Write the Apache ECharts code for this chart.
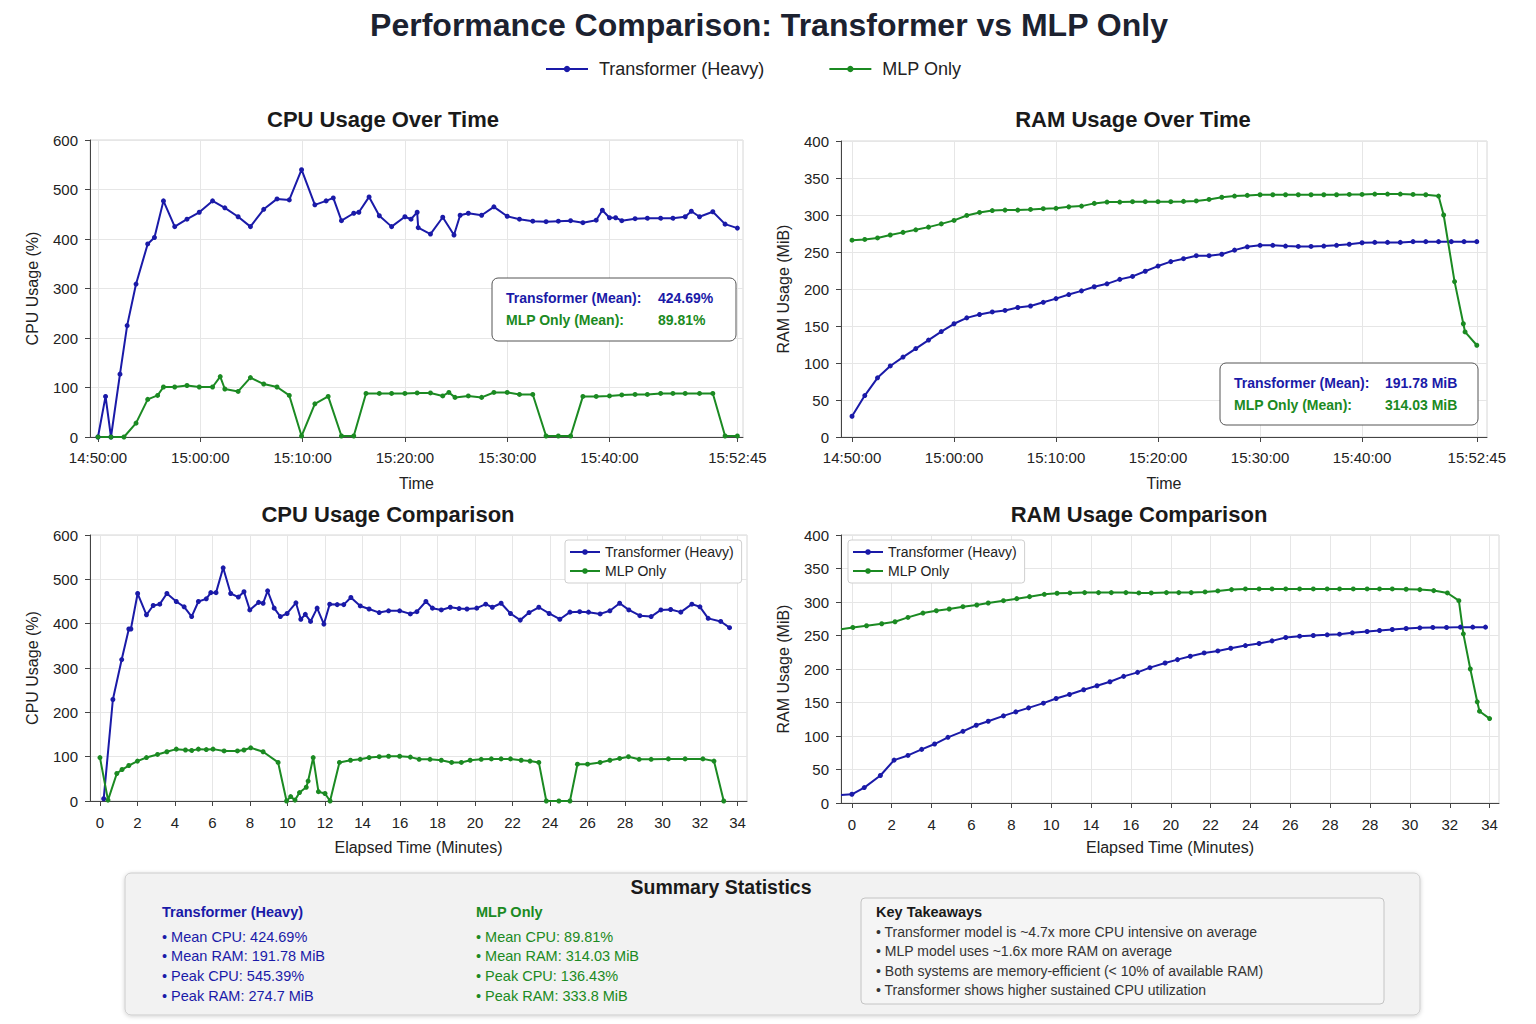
<!DOCTYPE html>
<html>
<head>
<meta charset="utf-8">
<title>Performance Comparison</title>
<script src="https://cdn.jsdelivr.net/npm/echarts@6/dist/echarts.min.js"></script>
<style>
  html, body { margin: 0; padding: 0; background: #fff; }
  #main { width: 1536px; height: 1024px; }
</style>
</head>
<body>
<div id="main"></div>
<script>
const FONT = 'Liberation Sans, Arial, Helvetica, sans-serif'
const BLUE = '#1a1aa8'
const GREEN = '#1b8a22'

// ---- CPU usage over time (minutes since 14:50:00) ----
const cpuTfTime = [0, 0.74, 1.27, 2.15, 2.85, 3.72, 4.86, 5.52, 6.4, 7.5, 8.7, 9.9, 11.2, 12.4, 13.7, 14.9, 16.2, 17.5, 18.7, 19.9,
  21.2, 22.3, 23.0, 23.8, 25.0, 25.5, 26.5, 27.5, 28.7, 30.0, 30.6, 31.2, 31.3, 32.5, 33.7, 34.8, 35.4, 36.2, 37.5, 38.7,
  40.0, 41.2, 42.5, 43.8, 45.0, 46.2, 47.4, 48.7, 49.3, 50.0, 50.6, 51.2, 52.5, 53.7, 55.0, 56.2, 57.4, 58.0, 58.8, 60.1, 61.3, 62.5]
const cpuTf = [0, 82, 0, 127, 225, 309, 390, 403, 477, 425, 440, 454, 477, 463, 445, 425, 460, 481, 479, 540,
  469, 477, 483, 437, 452, 454, 485, 447, 425, 445, 440, 454, 423, 410, 444, 408, 448, 452, 448, 465,
  446, 440, 436, 435, 436, 437, 433, 438, 458, 443, 443, 437, 441, 442, 442, 442, 445, 456, 445, 455, 430, 422]
const cpuMlpTime = [0, 1.27, 2.54, 3.72, 4.86, 5.83, 6.4, 7.5, 8.7, 9.9, 11.2, 11.95, 12.4, 13.7, 14.9, 16.2, 17.5, 18.7, 19.9,
  21.2, 22.5, 23.8, 25.0, 26.2, 27.5, 28.7, 30.0, 31.2, 32.5, 33.7, 34.3, 34.9, 36.2, 37.5, 38.7, 40.0, 41.2, 42.5,
  43.8, 45.0, 46.2, 47.4, 48.7, 50.0, 51.2, 52.5, 53.7, 55.0, 56.2, 57.4, 58.8, 60.1, 61.3, 62.5]
const cpuMlp = [0, 0, 0, 28, 76, 84, 101, 101, 104, 101, 101, 122, 97, 92, 120, 107, 101, 84, 2,
  67, 82, 2, 2, 88, 88, 88, 88, 89, 89, 83, 90, 80, 83, 80, 90, 90, 86, 86,
  2, 2, 2, 82, 82, 83, 85, 86, 86, 88, 88, 88, 88, 88, 2, 2]
const cpuTimeTicks = [0, 10, 20, 30, 40, 50, 62.5]
const cpuTimeLabels = ['14:50:00', '15:00:00', '15:10:00', '15:20:00', '15:30:00', '15:40:00', '15:52:45']

// ---- RAM usage over time ----
const ramTime = [0, 1.25, 2.5, 3.75, 5, 6.25, 7.5, 8.75, 10, 11.25, 12.5, 13.75, 15, 16.25, 17.5, 18.75, 20, 21.25, 22.5, 23.75,
  25, 26.25, 27.5, 28.75, 30, 31.25, 32.5, 33.75, 35, 36.25, 37.5, 38.75, 40, 41.25, 42.5, 43.75, 45, 46.25, 47.5, 48.75,
  50, 51.25, 52.5, 53.75, 55, 56.25, 57.5, 58.75, 60, 61.25]
const ramTf = [28, 56, 80, 96, 108, 119.5, 131, 142.5, 153, 161, 165.5, 169, 171, 175, 177, 182, 187, 192.5, 197.5, 203,
  207, 213, 217, 224, 231, 237, 241, 245, 245, 247, 252.5, 257, 259, 259, 258, 257.5, 257.5, 258, 259, 260.5,
  262.5, 263, 263, 263, 264, 264, 264, 264, 264, 264]
const ramMlpTime = [0, 1.25, 2.5, 3.75, 5, 6.25, 7.5, 8.75, 10, 11.25, 12.5, 13.75, 15, 16.25, 17.5, 18.75, 20, 21.25, 22.5, 23.75,
  25, 26.25, 27.5, 28.75, 30, 31.25, 32.5, 33.75, 35, 36.25, 37.5, 38.75, 40, 41.25, 42.5, 43.75, 45, 46.25, 47.5, 48.75,
  50, 51.25, 52.5, 53.75, 55, 56.25, 57.5, 58.0, 59.07, 59.93, 60.1, 61.25]
const ramMlp = [266, 267, 269, 273, 276.5, 280, 283.6, 288, 292.7, 299.4, 303.5, 306, 306.6, 306.6, 307.5, 308.5, 309, 311, 312, 315.7,
  317.5, 317.5, 318, 318, 318, 318, 318.4, 319, 321, 324, 325.6, 326.5, 327.4, 327.4, 327.4, 327.4, 327.4, 327.4, 327.4, 327.8,
  327.8, 328.3, 328.3, 328.3, 327.8, 327.4, 325.6, 300, 210, 153, 142, 124]
const ramTimeTicks = [0, 10, 20, 30, 40, 50, 61.25]
const ramTimeLabels = ['14:50:00', '15:00:00', '15:10:00', '15:20:00', '15:30:00', '15:40:00', '15:52:45']

// ---- CPU comparison (elapsed minutes) ----
const cmpCpuTfMin = [0.2, 0.69, 1.16, 1.54, 1.65, 2.01, 2.48, 2.84, 3.19, 3.57, 4.07, 4.49, 4.89, 5.25, 5.67, 5.91, 6.19, 6.57, 6.97, 7.38,
  7.68, 7.99, 8.46, 8.70, 8.94, 9.29, 9.62, 9.98, 10.45, 10.71, 10.95, 11.23, 11.58, 11.94, 12.25, 12.65, 13.0, 13.38, 13.88, 14.35,
  14.89, 15.39, 15.98, 16.55, 16.9, 17.38, 17.73, 18.2, 18.68, 19.15, 19.57, 20.09, 20.57, 20.92, 21.39, 21.89, 22.41, 22.88, 23.4, 23.95,
  24.52, 25.06, 25.58, 26.05, 26.67, 27.19, 27.71, 28.2, 28.79, 29.39, 29.91, 30.43, 30.97, 31.56, 31.99, 32.43, 33.1, 33.57]
const cmpCpuTf = [5, 229, 319, 388, 388, 468, 420, 441, 444, 468, 450, 438, 416, 450, 456, 470, 470, 526, 468, 460,
  472, 431, 448, 446, 474, 435, 416, 423, 447, 410, 421, 405, 435, 399, 444, 443, 443, 459, 440, 433,
  425, 429, 429, 422, 427, 450, 435, 431, 437, 434, 433, 435, 444, 437, 446, 423, 408, 425, 437, 423,
  410, 426, 427, 426, 422, 429, 446, 431, 418, 416, 431, 432, 426, 444, 438, 412, 405, 391]
const cmpCpuMlpMin = [0, 0.43, 0.9, 1.18, 1.54, 2.0, 2.48, 3.07, 3.57, 4.07, 4.56, 4.89, 5.25, 5.67, 6.03, 6.62, 7.33, 7.68, 8.04, 8.7,
  9.5, 9.95, 10.17, 10.4, 10.64, 11.0, 11.1, 11.37, 11.65, 12.0, 12.27, 12.77, 13.36, 13.88, 14.35, 14.89, 15.39, 15.98, 16.55, 17.02,
  17.6, 18.2, 18.75, 19.27, 19.74, 20.33, 20.87, 21.39, 21.89, 22.46, 22.93, 23.4, 23.8, 24.47, 25.06, 25.46, 26.0, 26.67, 27.19, 27.71,
  28.18, 28.75, 29.39, 30.31, 31.2, 32.15, 32.74, 33.26]
const cmpCpuMlp = [98, 2, 62, 71, 80, 90, 98, 105, 111, 117, 115, 114, 117, 116, 117, 113, 113, 115, 120, 111,
  87, 0, 10, 2, 19, 31, 45, 98, 21, 17, 0, 87, 92, 94, 98, 100, 101, 101, 99, 94,
  94, 92, 87, 87, 92, 94, 95, 95, 95, 92, 90, 87, 0, 0, 0, 83, 83, 87, 92, 96,
  100, 94, 94, 95, 95, 95, 90, 0]
const cmpCpuTicks = [0, 2, 4, 6, 8, 10, 12, 14, 16, 18, 20, 22, 24, 26, 28, 30, 32, 34]

// ---- RAM comparison (elapsed minutes) ----
const cmpRamTfMin = [-0.58, 0, 0.66, 1.52, 2.25, 2.99, 3.72, 4.41, 5.12, 5.92, 6.63, 7.27, 8.08, 8.74, 9.42, 10.21, 10.89, 11.6, 12.36, 13.07,
  13.76, 14.49, 15.23, 15.89, 16.7, 17.36, 18.04, 18.78, 19.51, 20.2, 20.98, 21.71, 22.4, 23.13, 23.87, 24.6, 25.34, 26.0, 26.68, 27.47,
  28.13, 28.81, 29.55, 30.28, 30.97, 31.7, 32.44, 33.1, 33.78]
const cmpRamTf = [12, 13, 23, 41, 64, 71, 80, 88, 98, 107, 116, 122, 130, 136, 142, 149, 156, 162, 169, 175,
  181, 189, 195, 202, 209, 214, 219, 224, 227, 231, 235, 238, 242, 247, 249, 250, 251, 252, 254, 256,
  257.5, 259, 260.5, 261.5, 262, 262, 262.5, 262.5, 262.5]
const cmpRamMlpMin = [-0.58, 0.05, 0.78, 1.59, 2.3, 2.99, 3.79, 4.5, 5.19, 5.92, 6.66, 7.27, 8.08, 8.79, 9.47, 10.26, 10.94, 11.63, 12.41, 13.15,
  13.83, 14.61, 15.3, 15.96, 16.77, 17.43, 18.09, 18.83, 19.51, 20.24, 20.98, 21.71, 22.4, 23.13, 23.87, 24.6, 25.34, 26.0, 26.73, 27.47,
  28.13, 28.81, 29.55, 30.28, 31.02, 31.75, 32.36, 32.6, 32.97, 33.34, 33.46, 34.0]
const cmpRamMlp = [259.5, 262, 264.5, 267.5, 270.5, 277, 283.5, 287, 289.5, 293, 295.5, 298.5, 302, 305, 308, 311.5, 313, 313.5, 314, 314,
  314, 314, 313.5, 313.5, 314, 314, 314, 315, 316.5, 318.5, 319.5, 319.5, 319.5, 319.5, 319.5, 319.5, 319.5, 319.5, 319.5, 319.5,
  319.5, 319.5, 319, 318.5, 317, 313.5, 302, 252.5, 200, 151, 137, 126]
const cmpRamLabels = ['0', '2', '4', '6', '8', '10', '14', '16', '20', '22', '24', '26', '28', '28', '30', '32', '34']

// ---- stats text ----
const cpuMeans = ['424.69%', '89.81%']
const ramMeans = ['191.78 MiB', '314.03 MiB']
const tfStats = ['• Mean CPU: 424.69%', '• Mean RAM: 191.78 MiB', '• Peak CPU: 545.39%', '• Peak RAM: 274.7 MiB']
const mlpStats = ['• Mean CPU: 89.81%', '• Mean RAM: 314.03 MiB', '• Peak CPU: 136.43%', '• Peak RAM: 333.8 MiB']
const takeaways = [
  '• Transformer model is ~4.7x more CPU intensive on average',
  '• MLP model uses ~1.6x more RAM on average',
  '• Both systems are memory-efficient (< 10% of available RAM)',
  '• Transformer shows higher sustained CPU utilization'
]

const zip = (xs, ys) => xs.map((x, i) => [x, ys[i]])
// first point of the comparison RAM lines starts at the frame edge, no marker there
const edgeStart = (xs, ys) => zip(xs, ys).map((p, i) => i === 0 ? { value: p, symbolSize: 0 } : p)

const cmpRamTicks = cmpRamLabels.map((l, i) => i * 34 / (cmpRamLabels.length - 1))

const labelFor = (ticks, labels) => v => {
  const i = ticks.findIndex(t => Math.abs(t - v) < 1e-6)
  return i >= 0 ? labels[i] : ''
}

const axisText = { color: '#222', fontSize: 15, fontFamily: FONT }
const nameText = { color: '#222', fontSize: 16, fontFamily: FONT }

function xAxis(grid, min, max, ticks, fmt, name, gap, margin) {
  return {
    type: 'value', gridIndex: grid, min: min, max: max,
    name: name, nameLocation: 'middle', nameGap: gap, nameTextStyle: nameText,
    axisLine: { show: true, onZero: false, lineStyle: { color: '#444', width: 1 } },
    axisTick: { show: true, length: 5, customValues: ticks, lineStyle: { color: '#444' } },
    axisLabel: Object.assign({ customValues: ticks, formatter: fmt, margin: margin }, axisText),
    splitLine: { show: true, lineStyle: { color: '#e6e6e6' } }
  }
}

function yAxis(grid, max, interval, name) {
  return {
    type: 'value', gridIndex: grid, min: 0, max: max, interval: interval,
    name: name, nameLocation: 'middle', nameGap: 50, nameTextStyle: nameText,
    axisLine: { show: true, onZero: false, lineStyle: { color: '#444', width: 1 } },
    axisTick: { show: true, length: 5, lineStyle: { color: '#444' } },
    axisLabel: Object.assign({ margin: 12 }, axisText),
    splitLine: { show: true, lineStyle: { color: '#e6e6e6' } }
  }
}

function line(name, color, grid, data) {
  return {
    name: name, type: 'line', xAxisIndex: grid, yAxisIndex: grid, data: data,
    symbol: 'circle', symbolSize: 5, showSymbol: true,
    lineStyle: { color: color, width: 2 }, itemStyle: { color: color },
    animation: false
  }
}

function subTitle(text, x, y) {
  return { text: text, left: x, top: y, textAlign: 'center', padding: 0,
    textStyle: { fontSize: 22, fontWeight: 'bold', color: '#1a1a1a', fontFamily: FONT } }
}

function txt(text, x, y, color, size, weight, align) {
  return { type: 'text', x: x, y: y, silent: true,
    style: { text: text, fill: color, fontSize: size, fontWeight: weight || 'normal', fontFamily: FONT,
      textAlign: align || 'left', textVerticalAlign: 'middle' } }
}

function meanBox(x, y, w, h, valX, values) {
  return [
    { type: 'rect', shape: { x: x, y: y, width: w, height: h, r: 6 },
      style: { fill: '#fff', stroke: '#555', lineWidth: 1 }, z: 10 },
    Object.assign(txt('Transformer (Mean):', x + 14, y + 20, BLUE, 14, 'bold'), { z: 11 }),
    Object.assign(txt(values[0], valX, y + 20, BLUE, 14, 'bold'), { z: 11 }),
    Object.assign(txt('MLP Only (Mean):', x + 14, y + 42, GREEN, 14, 'bold'), { z: 11 }),
    Object.assign(txt(values[1], valX, y + 42, GREEN, 14, 'bold'), { z: 11 })
  ]
}

const legendNames = ['Transformer (Heavy)', 'MLP Only']

function boxLegend(left) {
  return {
    data: legendNames, orient: 'vertical', left: left, top: 540,
    itemWidth: 30, itemHeight: 7, itemGap: 5,
    padding: [5, 8, 5, 4], backgroundColor: '#fff', borderColor: '#cfcfcf', borderWidth: 1, borderRadius: 3,
    textStyle: { fontSize: 14, color: '#222', fontFamily: FONT }
  }
}

const summary = [
  { type: 'rect', shape: { x: 125, y: 873, width: 1295, height: 142, r: 6 },
    style: { fill: '#f2f2f2', stroke: '#cccccc', lineWidth: 1, shadowBlur: 4, shadowColor: 'rgba(0,0,0,0.18)', shadowOffsetY: 1 } },
  txt('Summary Statistics', 721, 887, '#1a1a1a', 19.5, 'bold', 'center'),
  txt('Transformer (Heavy)', 162, 912, BLUE, 14.5, 'bold'),
  txt('MLP Only', 476, 912, GREEN, 14.5, 'bold'),
  { type: 'rect', shape: { x: 861, y: 898, width: 523, height: 106, r: 4 },
    style: { fill: '#f5f5f5', stroke: '#c4c4c4', lineWidth: 1 } },
  txt('Key Takeaways', 876, 912, '#1a1a1a', 14.5, 'bold')
]
const rowY = [937, 956, 976, 996]
tfStats.forEach((s, i) => summary.push(txt(s, 162, rowY[i], BLUE, 14.5)))
mlpStats.forEach((s, i) => summary.push(txt(s, 476, rowY[i], GREEN, 14.5)))
const takeY = [932, 951, 971, 990]
takeaways.forEach((s, i) => summary.push(txt(s, 876, takeY[i], '#333', 14)))

const chart = echarts.init(document.getElementById('main'), null, { renderer: 'svg' })

chart.setOption({
  backgroundColor: '#fff',
  animation: false,
  title: [
    { text: 'Performance Comparison: Transformer vs MLP Only', left: 769, top: 9, textAlign: 'center', padding: 0,
      textStyle: { fontSize: 32, fontWeight: 'bold', color: '#1c2230', fontFamily: FONT } },
    subTitle('CPU Usage Over Time', 383, 108),
    subTitle('RAM Usage Over Time', 1133, 108),
    subTitle('CPU Usage Comparison', 388, 503),
    subTitle('RAM Usage Comparison', 1139, 503)
  ],
  legend: [
    { data: legendNames, left: 545, top: 60, padding: 0, itemWidth: 42, itemHeight: 8, itemGap: 64,
      textStyle: { fontSize: 18, color: '#222', fontFamily: FONT, padding: [0, 0, 0, 6] } },
    boxLegend(565),
    boxLegend(848)
  ],
  grid: [
    { left: 90, top: 140, width: 653, height: 297, show: true, borderColor: '#d6d6d6', borderWidth: 1 },
    { left: 841, top: 141, width: 646, height: 296, show: true, borderColor: '#d6d6d6', borderWidth: 1 },
    { left: 90, top: 535, width: 657, height: 266, show: true, borderColor: '#d6d6d6', borderWidth: 1 },
    { left: 841, top: 535, width: 658, height: 268, show: true, borderColor: '#d6d6d6', borderWidth: 1 }
  ],
  xAxis: [
    xAxis(0, -0.78, 63.05, cpuTimeTicks, labelFor(cpuTimeTicks, cpuTimeLabels), 'Time', 38, 13),
    xAxis(1, -1.08, 62.25, ramTimeTicks, labelFor(ramTimeTicks, ramTimeLabels), 'Time', 38, 13),
    xAxis(2, -0.53, 34.5, cmpCpuTicks, v => String(Math.round(v)), 'Elapsed Time (Minutes)', 38, 14),
    xAxis(3, -0.58, 34.5, cmpRamTicks, labelFor(cmpRamTicks, cmpRamLabels), 'Elapsed Time (Minutes)', 36, 14)
  ],
  yAxis: [
    yAxis(0, 600, 100, 'CPU Usage (%)'),
    yAxis(1, 400, 50, 'RAM Usage (MiB)'),
    yAxis(2, 600, 100, 'CPU Usage (%)'),
    yAxis(3, 400, 50, 'RAM Usage (MiB)')
  ],
  series: [
    line('Transformer (Heavy)', BLUE, 0, zip(cpuTfTime, cpuTf)),
    line('MLP Only', GREEN, 0, zip(cpuMlpTime, cpuMlp)),
    line('Transformer (Heavy)', BLUE, 1, zip(ramTime, ramTf)),
    line('MLP Only', GREEN, 1, zip(ramMlpTime, ramMlp)),
    line('Transformer (Heavy)', BLUE, 2, zip(cmpCpuTfMin, cmpCpuTf)),
    line('MLP Only', GREEN, 2, zip(cmpCpuMlpMin, cmpCpuMlp)),
    line('Transformer (Heavy)', BLUE, 3, edgeStart(cmpRamTfMin, cmpRamTf)),
    line('MLP Only', GREEN, 3, edgeStart(cmpRamMlpMin, cmpRamMlp))
  ],
  graphic: [].concat(
    meanBox(492, 278, 244, 63, 658, cpuMeans),
    meanBox(1220, 363, 258, 62, 1385, ramMeans),
    summary
  )
})
</script>
</body>
</html>
